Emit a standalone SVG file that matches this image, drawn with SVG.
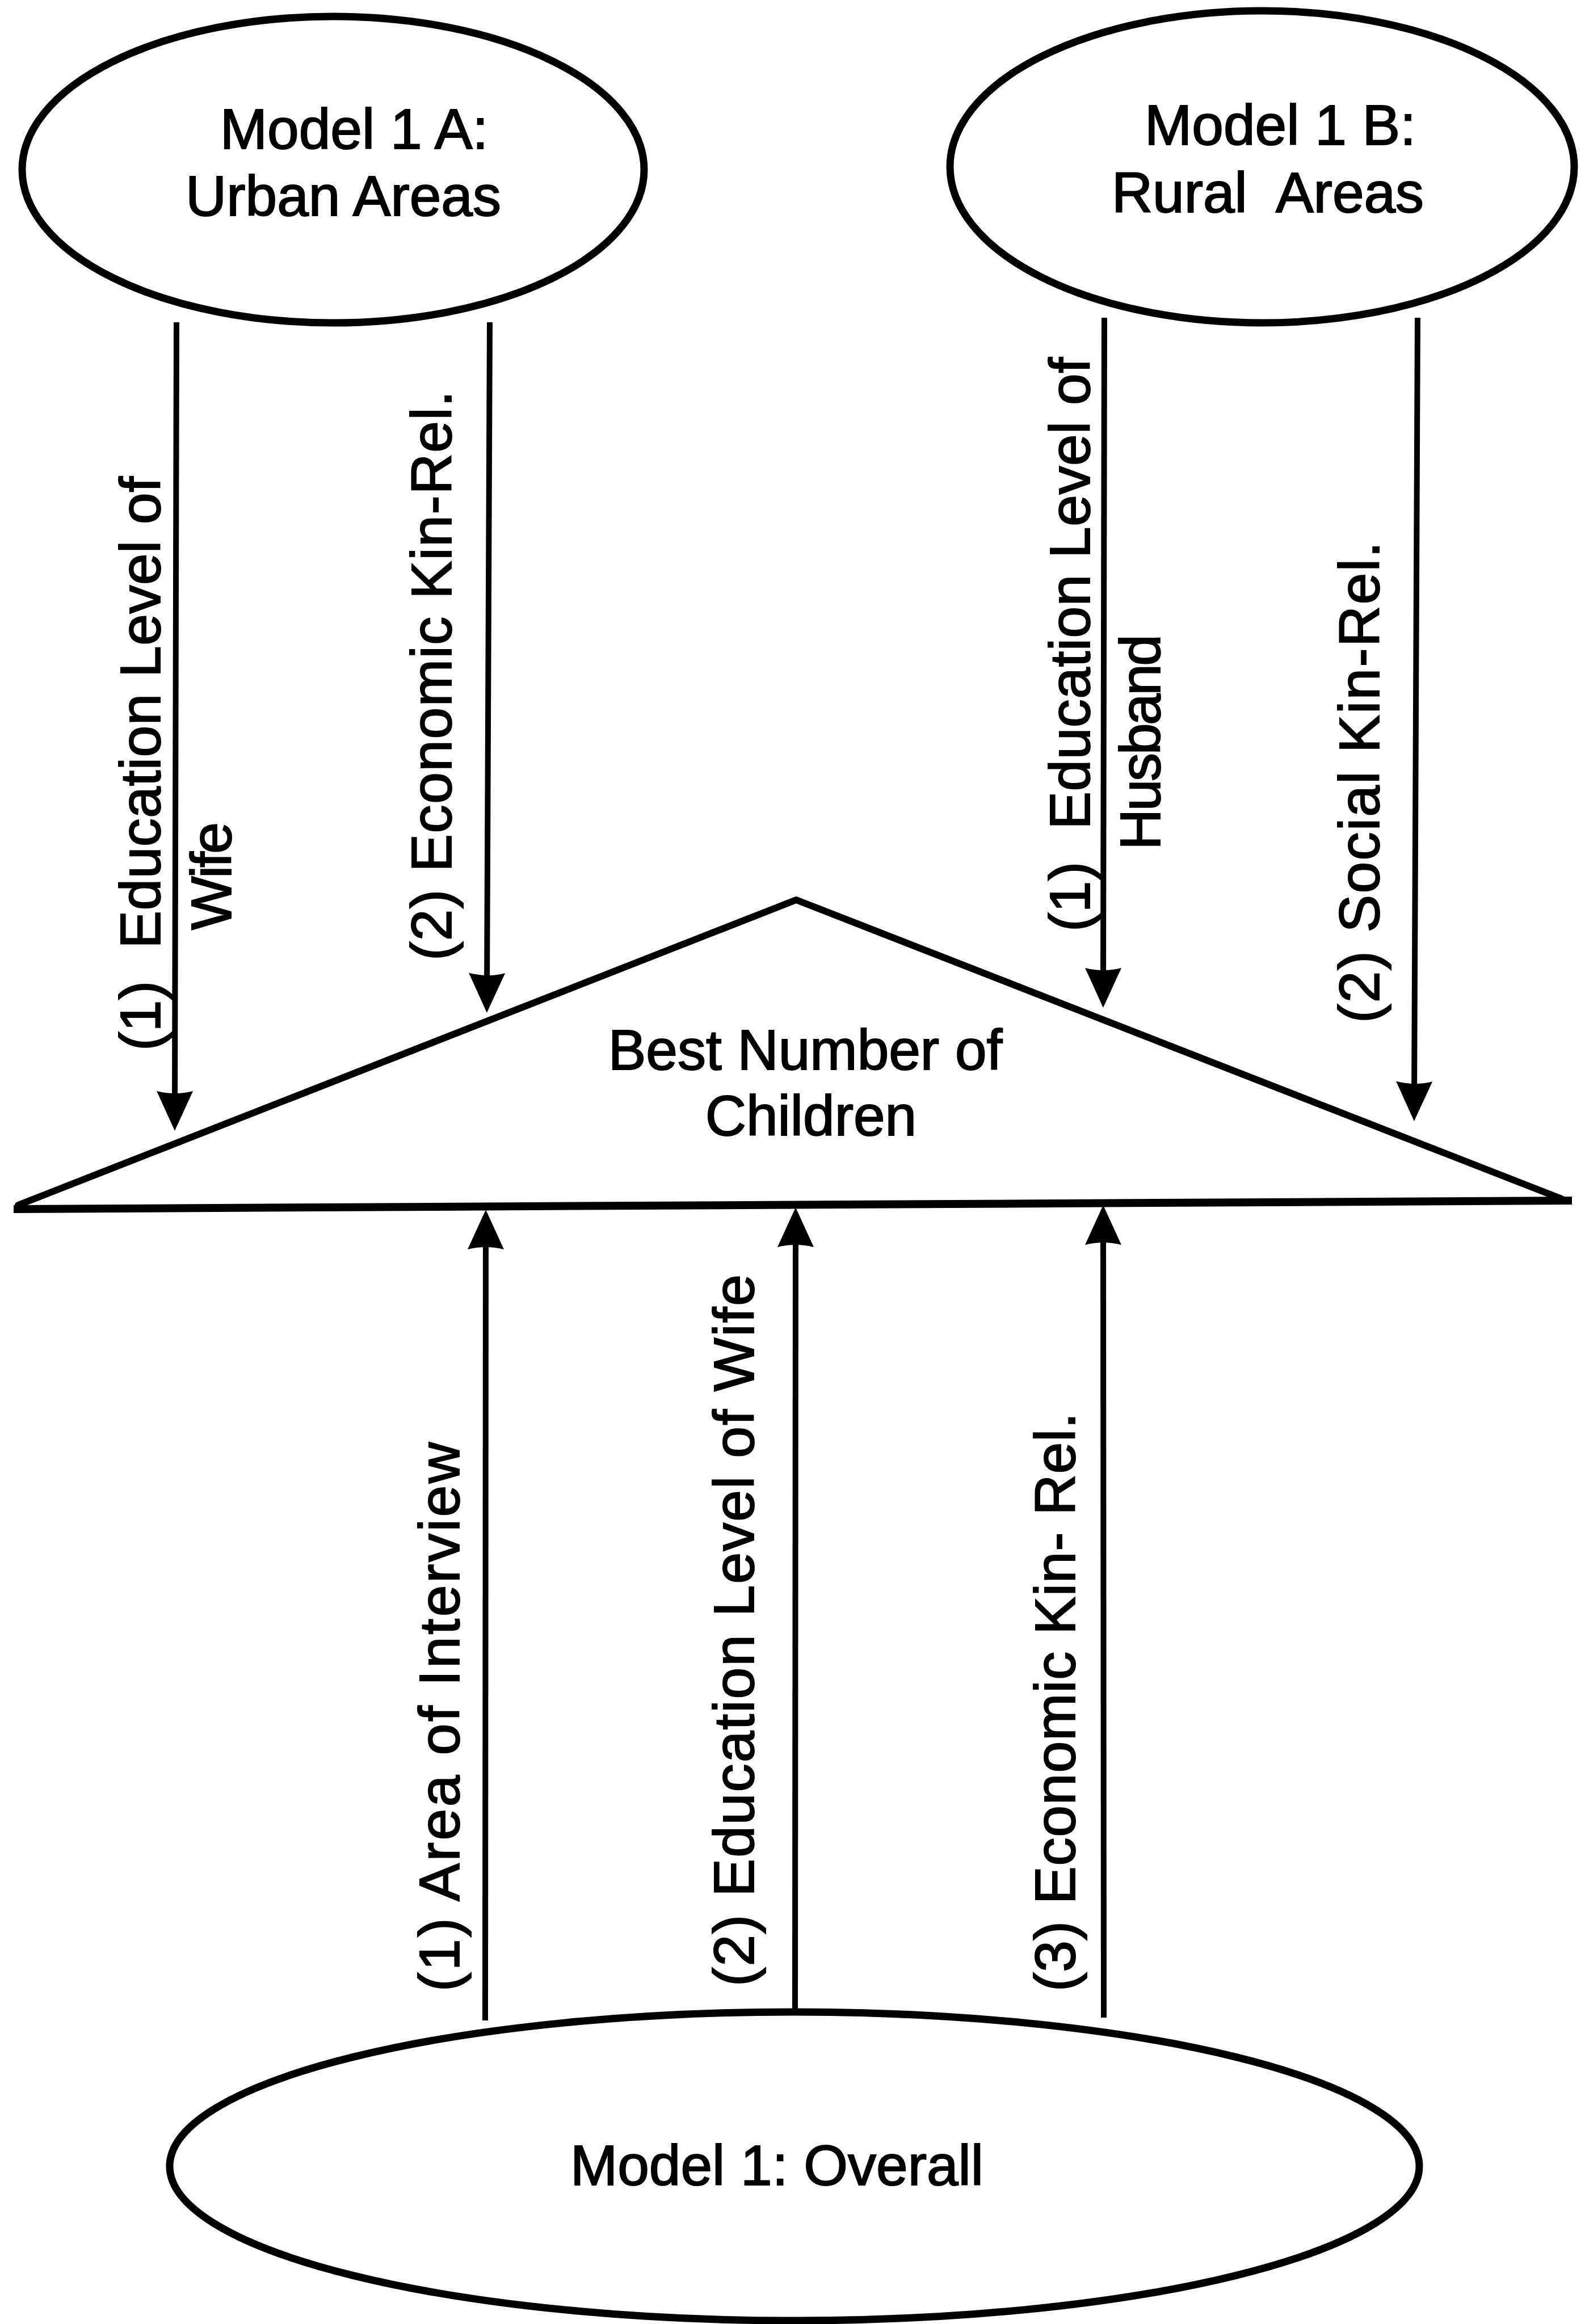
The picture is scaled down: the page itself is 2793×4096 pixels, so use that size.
<svg xmlns="http://www.w3.org/2000/svg" width="2793" height="4096" viewBox="0 0 2793 4096">
  <style>
    .bg { fill: #ffffff; }
    .node { fill: none; stroke: #000000; stroke-width: 13; }
    .tri { fill: none; stroke: #000000; stroke-width: 12; stroke-linejoin: round; stroke-linecap: round; }
    .base { fill: none; stroke: #000000; stroke-width: 14; stroke-linecap: butt; }
    .edge { fill: none; stroke: #000000; stroke-width: 10; marker-end: url(#head); }
    text { font-family: "Liberation Sans", Arial, Helvetica, sans-serif; font-size: 100px; fill: #000000; stroke: #000000; stroke-width: 2; }
    .c { text-anchor: middle; }
  </style>
  <defs>
    <!-- solid dart arrowhead; tip sits 36 units past the line end -->
    <marker id="head" viewBox="-40 -40 80 80" markerUnits="userSpaceOnUse" markerWidth="80" markerHeight="80" refX="0" refY="0" orient="auto" overflow="visible">
      <path d="M36,0 L-34,-32 Q-26,0 -34,32 Z" fill="#000000"/>
    </marker>
  </defs>

  <rect class="bg" x="0" y="0" width="2793" height="4096"/>

  <!-- Model 1 A -->
  <g id="model-1a">
    <ellipse class="node" cx="587" cy="299" rx="548" ry="270"/>
    <text class="c" x="624" y="262">Model 1 A:</text>
    <text class="c" x="605" y="380">Urban Areas</text>
  </g>

  <!-- Model 1 B -->
  <g id="model-1b">
    <ellipse class="node" cx="2224" cy="294" rx="550" ry="275"/>
    <text class="c" x="2256" y="255">Model 1 B:</text>
    <text class="c" x="2234" y="374" xml:space="preserve">Rural  Areas</text>
  </g>

  <!-- Outcome: Best Number of Children -->
  <g id="best-number">
    <polyline class="tri" points="32,2124 1403,1586 2752,2113"/>
    <line class="base" x1="24" y1="2131" x2="2770" y2="2116"/>
    <text class="c" x="1419" y="1885">Best Number of</text>
    <text class="c" x="1429" y="2001">Children</text>
  </g>

  <!-- Model 1 overall -->
  <g id="model-1">
    <ellipse class="node" cx="1400" cy="3818" rx="1101" ry="272"/>
    <text class="c" x="1369" y="3851">Model 1: Overall</text>
  </g>

  <!-- connectors -->
  <g id="connectors">
    <!-- urban model -->
    <line class="edge" x1="311" y1="568" x2="308" y2="1957"/>
    <line class="edge" x1="863" y1="568" x2="858" y2="1749"/>
    <!-- rural model -->
    <line class="edge" x1="1946" y1="560" x2="1944" y2="1740"/>
    <line class="edge" x1="2498" y1="560" x2="2492" y2="1940"/>
    <!-- overall model -->
    <line class="edge" x1="855" y1="3561" x2="856" y2="2168"/>
    <line class="edge" x1="1401" y1="3546" x2="1402" y2="2164"/>
    <line class="edge" x1="1945" y1="3556" x2="1944" y2="2160"/>
  </g>

  <!-- connector labels, read bottom to top -->
  <g id="edge-labels">
    <text transform="translate(282,1852) rotate(-90)" xml:space="preserve" textLength="1012" lengthAdjust="spacing">(1)  Education Level of</text>
    <text transform="translate(407,1639) rotate(-90)" textLength="190" lengthAdjust="spacing">Wife</text>
    <text transform="translate(795,1693) rotate(-90)" textLength="1004" lengthAdjust="spacing">(2) Economic Kin-Rel.</text>

    <text transform="translate(1920,1642) rotate(-90)" xml:space="preserve" textLength="1012" lengthAdjust="spacing">(1)  Education Level of</text>
    <text transform="translate(2044,1498) rotate(-90)" textLength="380" lengthAdjust="spacing">Husband</text>
    <text transform="translate(2430,1803) rotate(-90)" textLength="848" lengthAdjust="spacing">(2) Social Kin-Rel.</text>

    <text transform="translate(809,3510) rotate(-90)" textLength="968" lengthAdjust="spacing">(1) Area of Interview</text>
    <text transform="translate(1328,3501) rotate(-90)" textLength="1255" lengthAdjust="spacing">(2) Education Level of Wife</text>
    <text transform="translate(1894,3510) rotate(-90)" textLength="1020" lengthAdjust="spacing">(3) Economic Kin- Rel.</text>
  </g>
</svg>
